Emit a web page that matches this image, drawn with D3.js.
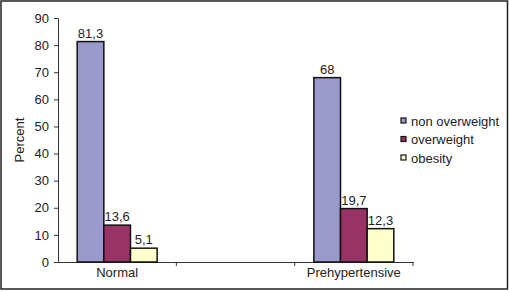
<!DOCTYPE html>
<html>
<head>
<meta charset="utf-8">
<script src="https://cdn.jsdelivr.net/npm/d3@7"></script>
<style>
  body { margin: 0; background: #fff; }
  svg { font-family: "Liberation Sans", Arial, sans-serif; }
</style>
</head>
<body>
<div id="chart"></div>
<script>
// categories (middle slot is an empty gap on the axis)
const categories = ["Normal", "", "Prehypertensive"];
const seriesNames = ["non overweight", "overweight", "obesity"];
const nonOverweight = [81.3, null, 68];
const overweight = [13.6, null, 19.7];
const obesity = [5.1, null, 12.3];
const yTicks = [0, 10, 20, 30, 40, 50, 60, 70, 80, 90];
const colors = ["#9999cc", "#993366", "#ffffcc"];

const width = 509, height = 292;
const margin = {top: 18, right: 96, bottom: 30, left: 58};

const svg = d3.select("#chart").append("svg")
    .attr("width", width)
    .attr("height", height);

// outer frame
svg.append("rect")
    .attr("x", 1).attr("y", 1)
    .attr("width", width - 2.5).attr("height", height - 4)
    .attr("fill", "none")
    .attr("stroke", "#222")
    .attr("stroke-width", 1.5);

const x = d3.scaleBand()
    .domain(categories)
    .range([margin.left, width - margin.right]);

const y = d3.scaleLinear()
    .domain([0, 90])
    .range([height - margin.bottom, margin.top]);

const xSub = d3.scaleBand()
    .domain(seriesNames)
    .range([0, x.bandwidth()])
    .paddingInner(0)
    .paddingOuter(0.72);

// y axis
const yAxis = svg.append("g")
    .attr("transform", "translate(" + margin.left + ",0)")
    .call(d3.axisLeft(y).tickValues(yTicks).tickSize(4).tickSizeOuter(0));
yAxis.select(".domain").attr("stroke", "#333");
yAxis.selectAll(".tick line").attr("stroke", "#333");
yAxis.selectAll("text")
    .attr("font-size", 13)
    .attr("fill", "#222")
    .attr("dx", "-2");

// x axis
const xAxis = svg.append("g")
    .attr("transform", "translate(0," + (height - margin.bottom) + ")")
    .call(d3.axisBottom(x).tickSize(0).tickSizeOuter(0));
xAxis.select(".domain").attr("stroke", "#333");
xAxis.selectAll("text")
    .attr("font-size", 13)
    .attr("fill", "#222")
    .attr("dy", "0.9em");

// category separator ticks
const bounds = categories.map(c => x(c) + x.bandwidth());
svg.append("g").selectAll("line")
    .data(bounds)
    .enter().append("line")
    .attr("x1", d => d).attr("x2", d => d)
    .attr("y1", height - margin.bottom)
    .attr("y2", height - margin.bottom + 4)
    .attr("stroke", "#333");

// y label
svg.append("text")
    .attr("transform", "translate(24," + ((margin.top + height - margin.bottom) / 2) + ") rotate(-90)")
    .attr("text-anchor", "middle")
    .attr("font-size", 13)
    .attr("fill", "#222")
    .text("Percent");

// bars
const series = [nonOverweight, overweight, obesity];
const rows = [];
categories.forEach((c, i) => {
    series.forEach((s, j) => {
        if (s[i] != null) rows.push({cat: c, name: seriesNames[j], value: s[i], color: colors[j]});
    });
});

svg.append("g").selectAll("rect")
    .data(rows)
    .enter().append("rect")
    .attr("x", d => x(d.cat) + xSub(d.name))
    .attr("y", d => y(d.value))
    .attr("width", xSub.bandwidth())
    .attr("height", d => y(0) - y(d.value))
    .attr("fill", d => d.color)
    .attr("stroke", "#111")
    .attr("stroke-width", 1.5);

// value labels
svg.append("g").selectAll("text")
    .data(rows)
    .enter().append("text")
    .attr("x", d => x(d.cat) + xSub(d.name) + xSub.bandwidth() / 2)
    .attr("y", d => y(d.value) - 4)
    .attr("text-anchor", "middle")
    .attr("font-size", 13)
    .attr("fill", "#222")
    .text(d => String(d.value).replace(".", ","));

// legend
const legend = svg.append("g")
    .attr("transform", "translate(401,121)");
const item = legend.selectAll("g")
    .data(seriesNames)
    .enter().append("g")
    .attr("transform", (d, i) => "translate(0," + (i * 18.5) + ")");
item.append("rect")
    .attr("x", 0).attr("y", -3)
    .attr("width", 5).attr("height", 5)
    .attr("fill", (d, i) => colors[i])
    .attr("stroke", "#111")
    .attr("stroke-width", 1.2);
item.append("text")
    .attr("x", 10)
    .attr("y", 0)
    .attr("dy", "0.35em")
    .attr("font-size", 13)
    .attr("fill", "#222")
    .text(d => d);
</script>
</body>
</html>
